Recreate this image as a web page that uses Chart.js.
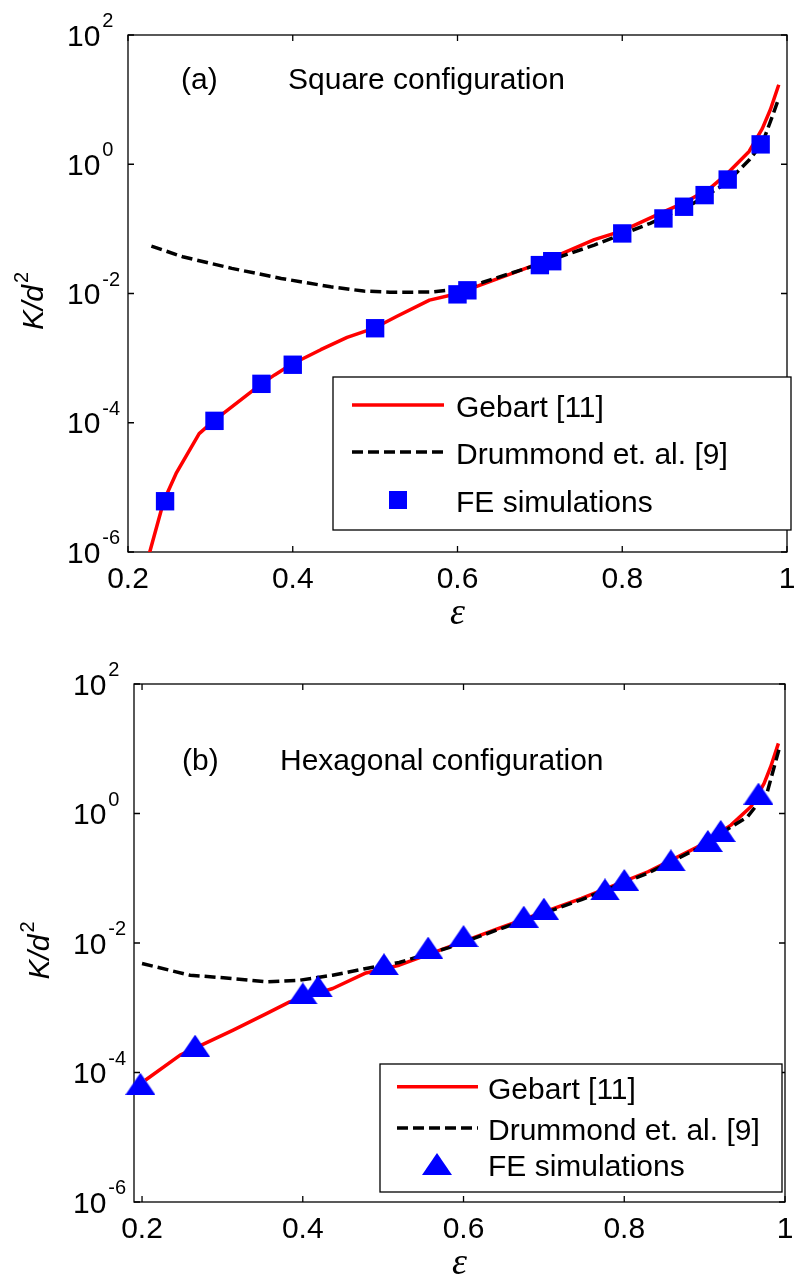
<!DOCTYPE html>
<html>
<head>
<meta charset="utf-8">
<script src="https://cdn.jsdelivr.net/npm/chart.js@4/dist/chart.umd.min.js"></script>
<style>
  html, body { margin: 0; padding: 0; background: #fff; }
  #wrap { position: relative; width: 800px; height: 1278px; }
  #wrap canvas { position: absolute; left: 0; }
</style>
</head>
<body>
<div id="wrap">
  <canvas id="panelSquare" width="800" height="640" style="top:0px"></canvas>
  <canvas id="panelHex" width="800" height="638" style="top:640px"></canvas>
</div>
<script>
// ---- Series labels and ticks ----
const seriesLabels = ['Gebart [11]', 'Drummond et. al. [9]', 'FE simulations'];
const xTickValues = [0.2, 0.4, 0.6, 0.8, 1];
const xTickLabels = ['0.2', '0.4', '0.6', '0.8', '1'];
const yTickValues = [1e-6, 1e-4, 1e-2, 1e0, 1e2];
const yTickExponents = ['-6', '-4', '-2', '0', '2'];

// ---- (a) Square configuration ----
const epsGebartSq = [0.222, 0.2264, 0.2435, 0.2584, 0.2864, 0.304, 0.362, 0.378, 0.3975, 0.434, 0.466, 0.498,
  0.526, 0.566, 0.598, 0.63, 0.70, 0.766, 0.80, 0.848, 0.874, 0.906, 0.926, 0.954, 0.970, 0.980, 0.990];
const kGebartSq = [4.0e-7, 1.0e-6, 6.2e-6, 1.64e-5, 6.8e-5, 1.07e-4, 4.0e-4, 5.5e-4, 7.9e-4, 1.35e-3, 2.09e-3, 2.88e-3,
  4.4e-3, 7.9e-3, 9.8e-3, 1.38e-2, 2.95e-2, 6.8e-2, 9.3e-2, 0.178, 0.25, 0.42, 0.69, 1.58, 3.55, 7.1, 17];

const epsDrummondSq = [0.2284, 0.2664, 0.326, 0.386, 0.446, 0.486, 0.518, 0.55, 0.57, 0.60, 0.63, 0.686,
  0.766, 0.834, 0.886, 0.926, 0.954, 0.970, 0.982, 0.990];
const kDrummondSq = [0.0542, 0.037, 0.0245, 0.0171, 0.0127, 0.0109, 0.0105, 0.0105, 0.0106, 0.0117, 0.0148, 0.0251,
  0.0562, 0.122, 0.248, 0.506, 1.16, 2.10, 5.43, 10.5];

const epsFeSq = [0.245, 0.305, 0.362, 0.40, 0.50, 0.60, 0.612, 0.70, 0.715, 0.80, 0.85, 0.875, 0.90, 0.928, 0.968];
const kFeSq = [6.1e-6, 1.07e-4, 4.0e-4, 7.9e-4, 2.9e-3, 9.7e-3, 1.12e-2, 2.75e-2, 3.16e-2, 8.5e-2, 0.145, 0.22, 0.333, 0.58, 2.03];

// ---- (b) Hexagonal configuration ----
const epsGebartHex = [0.204, 0.2474, 0.3134, 0.3548, 0.3837, 0.4373, 0.4786, 0.52, 0.5818, 0.6437,
  0.7469, 0.8295, 0.8914, 0.9327, 0.9575, 0.974, 0.9822, 0.9918];
const kGebartHex = [7.6e-5, 1.85e-4, 4.5e-4, 8.1e-4, 1.23e-3, 1.98e-3, 3.45e-3, 4.54e-3, 8.7e-3, 0.0168,
  0.0488, 0.126, 0.305, 0.662, 1.27, 2.92, 5.27, 12.1];

const epsDrummondHex = [0.2, 0.2598, 0.3134, 0.3548, 0.396, 0.437, 0.479, 0.52, 0.5818, 0.6437,
  0.7469, 0.8295, 0.8914, 0.9327, 0.9533, 0.978, 0.9934];
const kDrummondHex = [4.82e-3, 3.18e-3, 2.82e-3, 2.51e-3, 2.66e-3, 3.18e-3, 4.04e-3, 5.0e-3, 8.5e-3, 0.0162,
  0.0468, 0.120, 0.288, 0.617, 0.889, 2.16, 10.7];

const epsFeHex = [0.198, 0.266, 0.400, 0.419, 0.501, 0.556, 0.600, 0.675, 0.700, 0.776, 0.800, 0.858, 0.904, 0.920, 0.967];
const kFeHex = [6.7e-5, 2.6e-4, 1.66e-3, 2.13e-3, 4.7e-3, 8.5e-3, 1.28e-2, 2.55e-2, 3.39e-2, 6.73e-2, 9.4e-2, 0.189, 0.377, 0.538, 2.03];

// ---- Styling ----
const SANS = '"Liberation Sans", Arial, Helvetica, sans-serif';
const SERIF = '"Liberation Serif", "Times New Roman", serif';
const RED = '#ff0000';
const BLUE = '#0000ff';
const DASH = [11, 5];
const LINE_W = 3.5;

// Upward triangle marker (bounding box centred on the data point)
function makeTriangle() {
  const c = document.createElement('canvas');
  c.width = 30; c.height = 22;
  const g = c.getContext('2d');
  g.fillStyle = BLUE;
  g.beginPath();
  g.moveTo(15, 0); g.lineTo(30, 22); g.lineTo(0, 22);
  g.closePath(); g.fill();
  return c;
}
const triangle = makeTriangle();

const toPoints = (xs, ys) => xs.map((x, i) => ({ x: x, y: ys[i] }));

// Frame, inward ticks, tick labels, axis titles, panel caption and legend
const panelPlugin = {
  id: 'panel',
  beforeDatasetsDraw(chart, args, o) {
    const ctx = chart.ctx, a = chart.chartArea;
    const xs = chart.scales.x, ys = chart.scales.y;
    ctx.save();
    ctx.strokeStyle = '#000';
    ctx.lineWidth = 1.3;
    ctx.strokeRect(a.left, a.top, a.right - a.left, a.bottom - a.top);
    ctx.beginPath();
    xTickValues.forEach(v => {
      const px = xs.getPixelForValue(v);
      ctx.moveTo(px, a.bottom); ctx.lineTo(px, a.bottom - 6);
      ctx.moveTo(px, a.top); ctx.lineTo(px, a.top + 6);
    });
    yTickValues.forEach(v => {
      const py = ys.getPixelForValue(v);
      ctx.moveTo(a.left, py); ctx.lineTo(a.left + 6, py);
      ctx.moveTo(a.right, py); ctx.lineTo(a.right - 6, py);
    });
    ctx.stroke();

    ctx.fillStyle = '#000';
    ctx.textBaseline = 'alphabetic';
    ctx.textAlign = 'center';
    ctx.font = '30px ' + SANS;
    xTickValues.forEach((v, i) => {
      ctx.fillText(xTickLabels[i], xs.getPixelForValue(v), a.bottom + 36);
    });

    ctx.textAlign = 'left';
    yTickValues.forEach((v, i) => {
      const py = ys.getPixelForValue(v);
      ctx.font = '30px ' + SANS;
      const base = a.left - 61;
      ctx.fillText('10', base, py + 10.5);
      const w = ctx.measureText('10').width;
      ctx.font = '20px ' + SANS;
      ctx.fillText(yTickExponents[i], base + w + 2, py - 8);
    });

    // x-axis title
    ctx.textAlign = 'center';
    ctx.font = 'italic 38px ' + SERIF;
    ctx.fillText('\u03b5', (a.left + a.right) / 2, a.bottom + 72);

    // y-axis title K/d^2
    ctx.save();
    ctx.translate(a.left - 85, (a.top + a.bottom) / 2 + 7.5);
    ctx.rotate(-Math.PI / 2);
    ctx.textAlign = 'left';
    ctx.font = 'italic 30px ' + SANS;
    const wBody = ctx.measureText('K/d').width;
    ctx.font = '20px ' + SANS;
    const wSup = ctx.measureText('2').width;
    const x0 = -(wBody + wSup + 2) / 2;
    ctx.font = 'italic 30px ' + SANS;
    ctx.fillText('K/d', x0, 0);
    ctx.font = '20px ' + SANS;
    ctx.fillText('2', x0 + wBody + 2, -15);
    ctx.restore();

    // caption
    ctx.textAlign = 'left';
    ctx.font = '30px ' + SANS;
    ctx.fillText(o.tag, o.tagX, o.captionY);
    ctx.fillText(o.caption, o.captionX, o.captionY);
    ctx.restore();
  },
  afterDatasetsDraw(chart, args, o) {
    const ctx = chart.ctx, L = o.legend;
    ctx.save();
    ctx.fillStyle = '#fff';
    ctx.fillRect(L.box[0], L.box[1], L.box[2] - L.box[0], L.box[3] - L.box[1]);
    ctx.strokeStyle = '#000';
    ctx.lineWidth = 1.3;
    ctx.strokeRect(L.box[0], L.box[1], L.box[2] - L.box[0], L.box[3] - L.box[1]);

    ctx.lineWidth = LINE_W;
    ctx.strokeStyle = RED;
    ctx.beginPath();
    ctx.moveTo(L.lineX[0], L.rows[0]); ctx.lineTo(L.lineX[1], L.rows[0]);
    ctx.stroke();
    ctx.strokeStyle = '#000';
    ctx.setLineDash(DASH);
    ctx.beginPath();
    ctx.moveTo(L.lineX[0], L.rows[1]); ctx.lineTo(L.lineX[1], L.rows[1]);
    ctx.stroke();
    ctx.setLineDash([]);

    if (o.marker === 'square') {
      ctx.fillStyle = BLUE;
      ctx.fillRect(L.markerX - 9, L.rows[2] - 9, 18, 18);
    } else {
      ctx.drawImage(triangle, L.markerX - triangle.width / 2, L.rows[2] - triangle.height / 2);
    }

    ctx.fillStyle = '#000';
    ctx.font = '30px ' + SANS;
    ctx.textAlign = 'left';
    ctx.textBaseline = 'alphabetic';
    seriesLabels.forEach((t, i) => ctx.fillText(t, L.textX, L.rows[i] + 12));
    ctx.restore();
  }
};

function makePanel(id, cfg) {
  const marker = cfg.marker === 'square'
    ? { pointStyle: 'rect', pointRadius: 13 }
    : { pointStyle: triangle, pointRadius: 15 };
  return new Chart(document.getElementById(id), {
    type: 'scatter',
    data: {
      datasets: [
        Object.assign({
          label: seriesLabels[2],
          data: toPoints(cfg.epsFe, cfg.kFe),
          backgroundColor: BLUE,
          borderColor: BLUE,
          borderWidth: 0,
          pointBorderWidth: 0,
          clip: false
        }, marker),
        {
          label: seriesLabels[1],
          data: toPoints(cfg.epsDr, cfg.kDr),
          showLine: true,
          pointRadius: 0,
          borderColor: '#000',
          borderWidth: LINE_W,
          borderDash: DASH,
          borderJoinStyle: 'round'
        },
        {
          label: seriesLabels[0],
          data: toPoints(cfg.epsGe, cfg.kGe),
          showLine: true,
          pointRadius: 0,
          borderColor: RED,
          borderWidth: LINE_W,
          borderJoinStyle: 'round'
        }
      ]
    },
    options: {
      responsive: false,
      devicePixelRatio: 1,
      animation: false,
      events: [],
      layout: { padding: { top: cfg.padTop, right: cfg.padRight, left: 0, bottom: 0 } },
      scales: {
        x: {
          type: 'linear', min: cfg.xMin, max: 1,
          ticks: { display: false }, grid: { display: false }, border: { display: false },
          afterFit: s => { s.height = cfg.xAxisH; }
        },
        y: {
          type: 'logarithmic', min: 1e-6, max: 1e2,
          ticks: { display: false }, grid: { display: false }, border: { display: false },
          afterFit: s => { s.width = cfg.yAxisW; }
        }
      },
      plugins: {
        legend: { display: false },
        tooltip: { enabled: false },
        panel: {
          marker: cfg.marker,
          tag: cfg.tag, tagX: cfg.tagX,
          caption: cfg.caption, captionX: cfg.captionX, captionY: cfg.captionY,
          legend: cfg.legend
        }
      }
    },
    plugins: [panelPlugin]
  });
}

makePanel('panelSquare', {
  marker: 'square',
  epsGe: epsGebartSq, kGe: kGebartSq,
  epsDr: epsDrummondSq, kDr: kDrummondSq,
  epsFe: epsFeSq, kFe: kFeSq,
  xMin: 0.2, padTop: 35, padRight: 5, xAxisH: 88, yAxisW: 128,
  tag: '(a)', tagX: 181, caption: 'Square configuration', captionX: 288, captionY: 88.5,
  legend: { box: [333, 377, 791, 530], rows: [405, 452, 500], lineX: [352, 444], textX: 456, markerX: 398 }
});

makePanel('panelHex', {
  marker: 'triangle',
  epsGe: epsGebartHex, kGe: kGebartHex,
  epsDr: epsDrummondHex, kDr: kDrummondHex,
  epsFe: epsFeHex, kFe: kFeHex,
  xMin: 0.19, padTop: 44, padRight: 9, xAxisH: 76, yAxisW: 134,
  tag: '(b)', tagX: 182, caption: 'Hexagonal configuration', captionX: 280, captionY: 130,
  legend: { box: [380, 424, 782, 552], rows: [446.7, 488, 524], lineX: [397, 478], textX: 488, markerX: 437 }
});
</script>
</body>
</html>
